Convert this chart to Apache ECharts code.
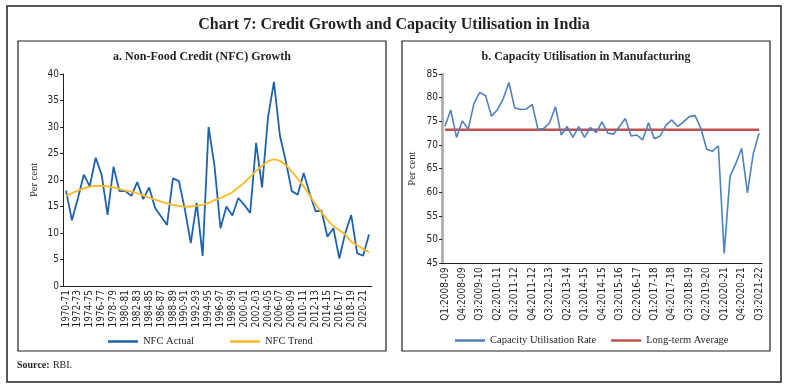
<!DOCTYPE html>
<html>
<head>
<meta charset="utf-8">
<script src="https://cdn.jsdelivr.net/npm/echarts@6/dist/echarts.min.js"></script>
<style>
html,body{margin:0;padding:0;background:#fff;}
#chart{width:788px;height:388px;}
</style>
</head>
<body>
<div id="chart"></div>
<script>
const nfcCategories = ["1970-71","1971-72","1972-73","1973-74","1974-75","1975-76","1976-77","1977-78","1978-79","1979-80",
"1980-81","1981-82","1982-83","1983-84","1984-85","1985-86","1986-87","1987-88","1988-89","1989-90",
"1990-91","1991-92","1992-93","1993-94","1994-95","1995-96","1996-97","1997-98","1998-99","1999-00",
"2000-01","2001-02","2002-03","2003-04","2004-05","2005-06","2006-07","2007-08","2008-09","2009-10",
"2010-11","2011-12","2012-13","2013-14","2014-15","2015-16","2016-17","2017-18","2018-19","2019-20",
"2020-21","2021-22"];
const nfcActual = [18.0,12.4,16.5,21.0,18.8,24.2,21.0,13.4,22.5,17.9,
17.9,17.0,19.6,16.4,18.6,14.7,13.1,11.5,20.3,19.8,
14.5,8.1,15.7,5.7,30.0,22.6,10.9,15.0,13.3,16.6,
15.3,13.8,27.0,18.6,31.8,38.5,28.4,23.5,17.9,17.2,
21.3,17.5,14.1,14.2,9.3,10.9,5.2,10.0,13.4,6.2,
5.7,9.7];
const nfcTrend = [17.0,17.5,18.0,18.4,18.7,18.9,18.9,18.8,18.6,18.3,
18.0,17.8,17.5,17.1,16.7,16.3,15.9,15.6,15.3,15.1,
15.0,15.0,15.1,15.3,15.7,16.2,16.6,17.1,17.7,18.6,
19.5,20.6,21.7,22.7,23.5,23.9,23.6,22.8,21.6,20.2,
18.8,17.1,15.4,13.9,12.5,11.3,10.5,9.7,8.4,7.7,
7.0,6.4];
const nfcTicks = [0,5,10,15,20,25,30,35,40];

const cuCategories = ["Q1:2008-09","Q2:2008-09","Q3:2008-09","Q4:2008-09",
"Q1:2009-10","Q2:2009-10","Q3:2009-10","Q4:2009-10",
"Q1:2010-11","Q2:2010-11","Q3:2010-11","Q4:2010-11",
"Q1:2011-12","Q2:2011-12","Q3:2011-12","Q4:2011-12",
"Q1:2012-13","Q2:2012-13","Q3:2012-13","Q4:2012-13",
"Q1:2013-14","Q2:2013-14","Q3:2013-14","Q4:2013-14",
"Q1:2014-15","Q2:2014-15","Q3:2014-15","Q4:2014-15",
"Q1:2015-16","Q2:2015-16","Q3:2015-16","Q4:2015-16",
"Q1:2016-17","Q2:2016-17","Q3:2016-17","Q4:2016-17",
"Q1:2017-18","Q2:2017-18","Q3:2017-18","Q4:2017-18",
"Q1:2018-19","Q2:2018-19","Q3:2018-19","Q4:2018-19",
"Q1:2019-20","Q2:2019-20","Q3:2019-20","Q4:2019-20",
"Q1:2020-21","Q2:2020-21","Q3:2020-21","Q4:2020-21",
"Q1:2021-22","Q2:2021-22","Q3:2021-22"];
const cuRate = [73.9,77.4,71.6,75.1,73.3,78.8,81.1,80.4,76.1,77.4,
79.7,83.2,77.8,77.5,77.6,78.6,73.3,73.5,74.7,78.1,
72.1,73.9,71.6,73.9,71.6,73.7,72.6,74.9,72.5,72.3,
73.9,75.6,71.9,72.1,71.1,74.7,71.3,71.9,74.2,75.3,
73.9,74.9,76.0,76.2,73.5,69.1,68.7,69.8,47.1,63.3,
66.1,69.3,59.9,68.2,72.5];
const cuLongTermAverage = cuCategories.map(() => 73.2);
const cuTicks = [45,50,55,60,65,70,75,80,85];

const serif = "'Liberation Serif','DejaVu Serif',serif";
const narrow = "'Liberation Sans Narrow','DejaVu Sans Condensed','Roboto Condensed',Roboto,sans-serif";
const ink = '#231f20';

const chart = echarts.init(document.getElementById('chart'), null, {renderer:'canvas'});

const xLabel = {rotate:90, fontFamily:narrow, fontSize:10, color:ink, margin:4};
const yLabel = {fontFamily:narrow, fontSize:10, color:ink, margin:4};

chart.setOption({
  animation:false,
  graphic:[
    {type:'rect', shape:{x:7,y:6,width:774,height:376}, style:{fill:'none', stroke:ink, lineWidth:1.5}},
    {type:'rect', shape:{x:18,y:41,width:368,height:310}, style:{fill:'none', stroke:ink, lineWidth:1.2}},
    {type:'rect', shape:{x:402,y:41,width:368,height:310}, style:{fill:'none', stroke:ink, lineWidth:1.2}},
    {type:'text', x:394, y:25, style:{text:'Chart 7: Credit Growth and Capacity Utilisation in India', font:'bold 16px '+serif, fill:ink, textAlign:'center', textVerticalAlign:'middle'}},
    {type:'text', x:202, y:57, style:{text:'a. Non-Food Credit (NFC) Growth', font:'bold 12px '+serif, fill:ink, textAlign:'center', textVerticalAlign:'middle'}},
    {type:'text', x:586, y:57, style:{text:'b. Capacity Utilisation in Manufacturing', font:'bold 12px '+serif, fill:ink, textAlign:'center', textVerticalAlign:'middle'}},
    {type:'text', x:17, y:365, style:{text:'{b|Source:} {n|RBI.}', rich:{b:{fontFamily:serif, fontWeight:'bold', fontSize:10, fill:ink}, n:{fontFamily:serif, fontSize:10, fill:ink}}, textVerticalAlign:'middle'}}
  ],
  legend:[
    {left:103, top:331, itemWidth:30, itemHeight:2.5, icon:'rect', itemGap:36, data:['NFC Actual','NFC Trend'],
     textStyle:{fontFamily:serif, fontSize:10.5, color:ink}},
    {left:450, top:330, itemWidth:30, itemHeight:2.5, icon:'rect', itemGap:15, data:['Capacity Utilisation Rate','Long-term Average'],
     textStyle:{fontFamily:serif, fontSize:10.5, color:ink}}
  ],
  grid:[
    {left:63, top:74, width:309, height:212},
    {left:442, top:74, width:320, height:189.3}
  ],
  xAxis:[
    {type:'category', gridIndex:0, data:nfcCategories, boundaryGap:true,
     axisLine:{lineStyle:{color:ink, width:1}},
     axisTick:{interval:0, length:3, lineStyle:{color:ink}},
     axisLabel:Object.assign({interval:1}, xLabel)},
    {type:'category', gridIndex:1, data:cuCategories, boundaryGap:true,
     axisLine:{lineStyle:{color:ink, width:1}},
     axisTick:{interval:0, length:3, lineStyle:{color:ink}},
     axisLabel:Object.assign({interval:2}, xLabel)}
  ],
  yAxis:[
    {type:'value', gridIndex:0, min:nfcTicks[0], max:nfcTicks[nfcTicks.length-1], interval:5,
     name:'Per cent', nameLocation:'middle', nameGap:23, nameTextStyle:{fontFamily:serif, fontSize:10.5, color:ink},
     axisLine:{show:true, lineStyle:{color:ink, width:1}},
     axisTick:{show:true, length:3, lineStyle:{color:ink}},
     splitLine:{show:false}, axisLabel:yLabel},
    {type:'value', gridIndex:1, min:cuTicks[0], max:cuTicks[cuTicks.length-1], interval:5,
     name:'Per cent', nameLocation:'middle', nameGap:24, nameTextStyle:{fontFamily:serif, fontSize:10.5, color:ink},
     axisLine:{show:true, lineStyle:{color:'#a6a6a6', width:2.5}},
     axisTick:{show:true, length:3, lineStyle:{color:ink}},
     splitLine:{show:false}, axisLabel:yLabel}
  ],
  series:[
    {name:'NFC Actual', type:'line', xAxisIndex:0, yAxisIndex:0, data:nfcActual, symbol:'none',
     lineStyle:{color:'#1f62ac', width:1.8}, itemStyle:{color:'#1f62ac'}},
    {name:'NFC Trend', type:'line', xAxisIndex:0, yAxisIndex:0, data:nfcTrend, symbol:'none', smooth:0.4,
     lineStyle:{color:'#fdb827', width:1.8}, itemStyle:{color:'#fdb827'}},
    {name:'Long-term Average', type:'line', xAxisIndex:1, yAxisIndex:1, data:cuLongTermAverage, symbol:'none', z:1,
     lineStyle:{color:'#c0504d', width:2.5}, itemStyle:{color:'#c0504d'}},
    {name:'Capacity Utilisation Rate', type:'line', xAxisIndex:1, yAxisIndex:1, data:cuRate, symbol:'none', z:2,
     lineStyle:{color:'#4f81bd', width:1.6}, itemStyle:{color:'#4f81bd'}}
  ]
});
</script>
</body>
</html>
